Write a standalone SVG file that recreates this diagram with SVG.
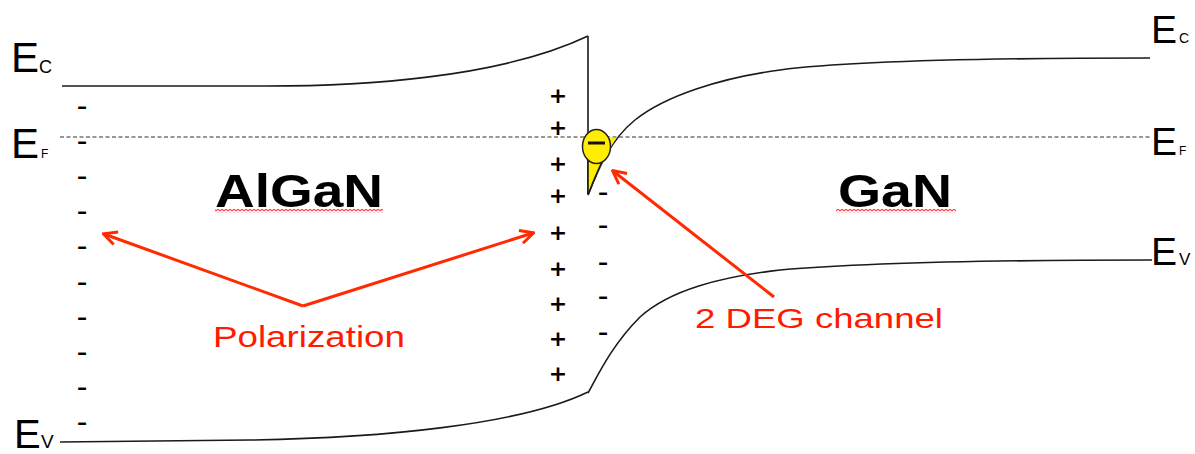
<svg xmlns="http://www.w3.org/2000/svg" width="1195" height="454" viewBox="0 0 1195 454">
  <style>
    .band { fill: none; stroke: #1a1a1a; stroke-width: 1.6; }
    .fermi { fill: none; stroke: #333; stroke-width: 1.2; stroke-dasharray: 4 2.5; }
    .lbl { font-family: "Liberation Sans", Arial, sans-serif; fill: #000; }
    .chg { font-family: "Liberation Sans", Arial, sans-serif; fill: #000; font-size: 32px; text-anchor: middle; }
    .pos { font-family: "DejaVu Sans", sans-serif; font-weight: bold; fill: #000; font-size: 22px; text-anchor: middle; }
    .red { font-family: "Liberation Sans", Arial, sans-serif; fill: #ff1a00; }
    .arrow { fill: none; stroke: #ff2a00; stroke-width: 3; marker-end: url(#head); }
    .mat { font-family: "Liberation Sans", Arial, sans-serif; font-weight: bold; font-size: 47px; fill: #000; }
  </style>
  <defs>
    <marker id="head" viewBox="0 0 12 12" refX="10.5" refY="6" markerWidth="16" markerHeight="16" markerUnits="userSpaceOnUse" orient="auto">
      <path d="M1,1 L11,6 L1,11" fill="none" stroke="#ff2a00" stroke-width="2.2"/>
    </marker>
    <pattern id="squig" x="0" y="0" width="4" height="4" patternUnits="userSpaceOnUse">
      <path d="M0,3 L2,1 L4,3" fill="none" stroke="#ff4040" stroke-width="1.1"/>
    </pattern>
  </defs>

  <g id="bands">
    <path id="ec-algan" class="band" d="M62,86 L250,86 C360,87 500,78 588,36"/>
    <path id="barrier" class="band" d="M588,36 L588,194"/>
    <path id="ec-gan" class="band" d="M588,195 C598,170 610,140 635,120 C665,96 720,78 780,70 C840,62 950,58 1150,58"/>
    <path id="ev-algan" class="band" d="M60,442 L250,440 C380,438 520,425 588,392"/>
    <path id="ev-gan" class="band" d="M588,393 C598,375 612,345 640,317 C670,290 720,277 780,270 C850,264 950,260 1152,260"/>
    <path id="ef" class="fermi" d="M60,137 L1150,137"/>
  </g>

  <g id="channel">
    <path d="M588,146 L588,193 C596,178 604,158 616,138 L600,136 Z" fill="#ffee00"/>
    <path d="M588,150 L588,194" class="band"/>
    <path d="M588,195 C593,182 600,165 608,150" class="band"/>
    <ellipse cx="596.5" cy="146.5" rx="14" ry="17" fill="#ffee00" stroke="#222" stroke-width="1.5"/>
    <rect x="588" y="141.5" width="17" height="3" fill="#111"/>
  </g>

  <g id="labels-left">
    <text class="lbl" x="11" y="72" font-size="42">E</text>
    <text class="lbl" x="39" y="73" font-size="18">C</text>
    <text class="lbl" x="11" y="158" font-size="42">E</text>
    <text class="lbl" x="41" y="158" font-size="12">F</text>
    <text class="lbl" x="14" y="448" font-size="40">E</text>
    <text class="lbl" x="41" y="448" font-size="19">V</text>
  </g>
  <g id="labels-right">
    <text class="lbl" x="1151" y="43" font-size="39">E</text>
    <text class="lbl" x="1179" y="43" font-size="14">C</text>
    <text class="lbl" x="1151" y="155" font-size="39">E</text>
    <text class="lbl" x="1179" y="155" font-size="12">F</text>
    <text class="lbl" x="1151" y="265" font-size="39">E</text>
    <text class="lbl" x="1179" y="265" font-size="17">V</text>
  </g>

  <g id="neg-charges-left">
    <text class="chg" x="82" y="116">-</text>
    <text class="chg" x="82" y="151">-</text>
    <text class="chg" x="82" y="186">-</text>
    <text class="chg" x="82" y="221">-</text>
    <text class="chg" x="82" y="256">-</text>
    <text class="chg" x="82" y="292">-</text>
    <text class="chg" x="82" y="327">-</text>
    <text class="chg" x="82" y="362">-</text>
    <text class="chg" x="82" y="397">-</text>
    <text class="chg" x="82" y="432">-</text>
  </g>
  <g id="pos-charges">
    <text class="pos" x="558" y="103">+</text>
    <text class="pos" x="558" y="135">+</text>
    <text class="pos" x="558" y="171">+</text>
    <text class="pos" x="558" y="203">+</text>
    <text class="pos" x="558" y="240">+</text>
    <text class="pos" x="558" y="276">+</text>
    <text class="pos" x="558" y="311">+</text>
    <text class="pos" x="558" y="346">+</text>
    <text class="pos" x="558" y="381">+</text>
  </g>
  <g id="neg-charges-right">
    <text class="chg" x="603" y="202">-</text>
    <text class="chg" x="603" y="235">-</text>
    <text class="chg" x="603" y="272">-</text>
    <text class="chg" x="603" y="306">-</text>
    <text class="chg" x="603" y="342">-</text>
  </g>

  <g id="algan">
    <text class="mat" x="215" y="207" textLength="168" lengthAdjust="spacingAndGlyphs">AlGaN</text>
    <rect x="215" y="209" width="168" height="4" fill="url(#squig)"/>
  </g>
  <g id="gan">
    <text class="mat" x="838" y="207" textLength="114" lengthAdjust="spacingAndGlyphs">GaN</text>
    <rect x="836" y="209" width="120" height="4" fill="url(#squig)"/>
  </g>

  <g id="connectors">
    <path class="arrow" d="M303,306 L104,234"/>
    <path class="arrow" d="M303,306 L533,233"/>
    <path class="arrow" d="M774,297 L613,171"/>
  </g>

  <g id="polarization">
    <text class="red" x="213" y="347" font-size="29" textLength="192" lengthAdjust="spacingAndGlyphs">Polarization</text>
  </g>
  <g id="twodeg">
    <text class="red" x="695" y="328" font-size="28" textLength="248" lengthAdjust="spacingAndGlyphs">2 DEG channel</text>
  </g>
</svg>
